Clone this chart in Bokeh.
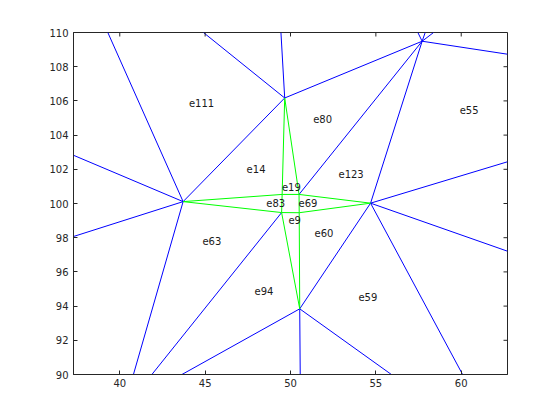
import math
from bokeh.plotting import figure
from bokeh.models import Range1d, FixedTicker, ColumnDataSource
from bokeh.core.properties import value
from bokeh.embed import file_html
from bokeh.resources import INLINE

# ---- data ----
x_ticks = [40, 45, 50, 55, 60]
y_ticks = [90, 92, 94, 96, 98, 100, 102, 104, 106, 108, 110]
x_lim = [37.29, 62.71]
y_lim = [90, 110]

# mesh nodes (interior) and boundary end points
node_names = ["A", "B", "C", "D", "E", "P1", "P2", "P3", "P4",
              "b1", "b2", "b3", "b4", "b5", "b6", "b7", "b8", "b9",
              "b10", "b11", "b12", "b13", "b14", "b15", "b16", "b17"]
node_x = [43.71, 49.66, 54.69, 50.54, 57.71, 49.51, 50.50, 49.48, 50.51,
          39.30, 44.90, 49.44, 57.46, 57.89, 58.38, 62.71, 37.29, 37.29,
          40.80, 41.88, 43.64, 50.57, 55.91, 60.08, 62.71, 62.71]
node_y = [100.11, 106.17, 100.02, 93.84, 109.49, 100.53, 100.53, 99.47, 99.46,
          110.0, 110.0, 110.0, 110.0, 110.0, 110.0, 108.73, 102.82, 98.07,
          90.0, 90.0, 90.0, 90.0, 90.0, 90.0, 102.44, 97.21]

blue_edges = [("A", "B"), ("B", "E"), ("E", "P2"), ("E", "C"), ("C", "D"),
              ("A", "b1"), ("B", "b2"), ("B", "b3"), ("E", "b4"), ("E", "b5"),
              ("E", "b6"), ("E", "b7"), ("A", "b8"), ("A", "b9"), ("A", "b10"),
              ("P3", "b11"), ("D", "b12"), ("D", "b13"), ("D", "b14"),
              ("C", "b15"), ("C", "b16"), ("C", "b17")]
green_edges = [("A", "P1"), ("P1", "P2"), ("P2", "C"), ("A", "P3"), ("P3", "P4"),
               ("P4", "C"), ("B", "P1"), ("B", "P2"), ("P1", "P3"), ("P2", "P4"),
               ("P3", "D"), ("P4", "D")]

elem_labels = ["e111", "e80", "e55", "e14", "e123", "e19", "e83", "e69",
               "e9", "e60", "e63", "e94", "e59"]
elem_x = [44.05, 51.33, 59.91, 47.43, 52.81, 49.50, 48.58, 50.47,
          49.88, 51.41, 44.84, 47.89, 53.98]
elem_y = [105.86, 104.93, 105.45, 102.00, 101.70, 100.96, 100.01, 100.01,
          99.01, 98.25, 97.80, 94.87, 94.52]

# ---- build ----
idx = {n: i for i, n in enumerate(node_names)}


def seg_source(edges):
    return ColumnDataSource(dict(
        x0=[node_x[idx[a]] for a, b in edges],
        y0=[node_y[idx[a]] for a, b in edges],
        x1=[node_x[idx[b]] for a, b in edges],
        y1=[node_y[idx[b]] for a, b in edges],
    ))


p = figure(frame_width=434, frame_height=342,
           x_range=Range1d(*x_lim), y_range=Range1d(*y_lim),
           output_backend="svg", toolbar_location=None,
           min_border_left=73, min_border_right=45,
           min_border_top=32, min_border_bottom=38)

p.xgrid.visible = False
p.ygrid.visible = False
p.background_fill_color = "white"
p.border_fill_color = "white"
p.outline_line_color = "#262626"
p.outline_line_width = 1
p.outline_line_alpha = 1

p.segment("x0", "y0", "x1", "y1", source=seg_source(blue_edges),
          line_color="#0000ff", line_width=1)
p.segment("x0", "y0", "x1", "y1", source=seg_source(green_edges),
          line_color="#00ff00", line_width=1)

p.text(x=elem_x, y=elem_y, text=elem_labels,
       text_font=value("DejaVu Sans"), text_font_size="10px",
       text_color="#1a1a1a", text_align="left", text_baseline="middle")

# inward ticks on the top and right edges of the box
p.ray(x=x_ticks, y=[y_lim[1]] * len(x_ticks), length=4, length_units="screen",
      angle=-math.pi / 2, line_color="#262626", line_width=1)
p.ray(x=[x_lim[1]] * len(y_ticks), y=y_ticks, length=4, length_units="screen",
      angle=math.pi, line_color="#262626", line_width=1)

for ax in (p.xaxis[0], p.yaxis[0]):
    ax.major_tick_in = 4
    ax.major_tick_out = 0
    ax.minor_tick_in = 0
    ax.minor_tick_out = 0
    ax.axis_line_color = "#262626"
    ax.major_tick_line_color = "#262626"
    ax.major_label_text_font = "DejaVu Sans"
    ax.major_label_text_font_size = "10px"
    ax.major_label_text_color = "#262626"

p.xaxis.ticker = FixedTicker(ticks=x_ticks)
p.yaxis.ticker = FixedTicker(ticks=y_ticks)
p.xaxis.major_label_standoff = 4
p.yaxis.major_label_standoff = 5

open("out.html", "w").write(file_html(p, INLINE))
